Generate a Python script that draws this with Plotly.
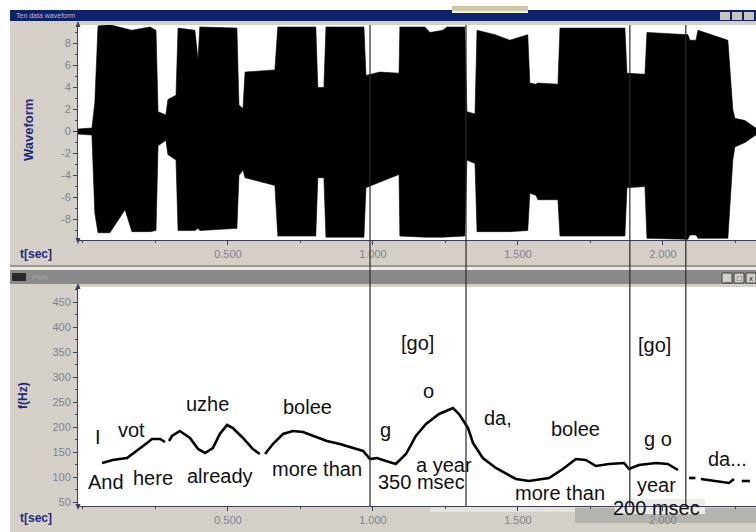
import plotly.graph_objects as go

# ---------------- data ----------------
# waveform amplitude envelope (time in s, upper / lower amplitude)
wave_t = [-0.017, 0.031, 0.041, 0.052, 0.093, 0.145, 0.169, 0.231, 0.252, 0.259, 0.286, 0.293,
          0.321, 0.328, 0.386, 0.397, 0.403, 0.531, 0.538, 0.552, 0.559, 0.662, 0.672, 0.803,
          0.810, 0.831, 0.838, 0.969, 0.976, 1.024, 1.090, 1.093, 1.179, 1.197, 1.241, 1.255,
          1.317, 1.324, 1.352, 1.359, 1.421, 1.472, 1.534, 1.541, 1.562, 1.569, 1.638, 1.645,
          1.869, 1.876, 1.938, 1.945, 2.086, 2.093, 2.114, 2.121, 2.224, 2.241, 2.248, 2.283, 2.321]
wave_upper = [0.23, 0.32, 2.6, 9.6, 9.7, 9.4, 9.2, 9.5, 9.2, 1.8, 1.5, 2.9,
              3.3, 9.4, 9.2, 6.5, 9.5, 9.4, 2.4, 2.1, 5.4, 5.6, 9.5, 9.5,
              4.0, 4.0, 9.5, 9.5, 5.1, 5.4, 5.3, 9.5, 9.5, 9.0, 9.2, 9.5,
              9.5, 1.8, 1.6, 9.2, 8.8, 8.3, 8.8, 4.4, 4.3, 4.4, 4.3, 9.4,
              9.4, 5.3, 5.2, 9.0, 8.8, 8.3, 8.3, 9.2, 8.3, 2.0, 1.2, 1.0, 0.3]
wave_lower = [-0.23, -0.32, -7.4, -9.2, -9.2, -7.1, -9.1, -9.1, -9.0, -1.3, -0.8, -2.1,
              -2.6, -9.0, -9.0, -8.8, -9.0, -8.8, -4.0, -3.5, -4.2, -4.9, -9.5, -9.5,
              -4.2, -4.2, -9.6, -9.6, -5.1, -4.6, -3.9, -9.5, -9.6, -9.6, -9.6, -9.6,
              -9.5, -2.6, -2.9, -9.1, -9.1, -9.1, -9.0, -5.6, -5.8, -6.2, -6.2, -9.5,
              -9.5, -5.1, -5.0, -9.7, -9.8, -9.4, -9.4, -9.7, -9.7, -2.6, -1.4, -1.0, -0.3]

# pitch contour (time in s, F0 in Hz); None = unvoiced gap
pitch_t = [0.066, 0.103, 0.152, 0.186, 0.221, 0.238, 0.266, 0.283, None,
           0.297, 0.307, 0.334, 0.369, 0.397, 0.421, 0.448, 0.472, 0.497, 0.517, 0.552, 0.586, 0.610, None,
           0.628, 0.655, 0.690, 0.724, 0.759, 0.793, 0.841, 0.886, 0.931, 0.966, 0.990, 1.014, 1.045,
           1.079, 1.114, 1.148, 1.183, 1.228, 1.276, 1.297, 1.328, 1.345, 1.379, 1.424, 1.493, 1.538,
           1.607, 1.655, 1.700, 1.734, 1.769, 1.814, 1.866, 1.883, 1.917, 1.976, 2.017, 2.052, None,
           2.090, 2.112, None,
           2.131, 2.183, 2.228, 2.245, None,
           2.272, 2.300]
pitch_hz = [128, 134, 138, 152, 168, 176, 176, 170, None,
            172, 182, 192, 178, 156, 148, 158, 186, 204, 198, 178, 156, 146, None,
            146, 166, 186, 192, 190, 182, 172, 166, 158, 152, 136, 138, 132,
            126, 146, 182, 206, 226, 238, 226, 198, 168, 138, 118, 96, 92,
            98, 116, 136, 134, 122, 126, 128, 116, 124, 128, 126, 114, None,
            98, 98, None,
            96, 92, 88, 96, None,
            92, 92]

# segment boundaries (s)
boundary_t = [0.990, 1.321, 1.886, 2.079]

# word labels on the pitch panel
word_text = ["I", "vot", "uzhe", "bolee", "And", "here", "already", "more than",
             "[go]", "o", "g", "a year", "350 msec", "da,", "bolee", "more than",
             "[go]", "g o", "year", "200 msec", "da..."]
word_t = [0.052, 0.169, 0.431, 0.776, 0.079, 0.241, 0.472, 0.807,
          1.152, 1.190, 1.045, 1.245, 1.169, 1.431, 1.700, 1.645,
          1.972, 1.983, 1.979, 1.979, 2.222]
word_hz = [180, 194, 246, 240, 90, 98, 102, 116,
           368, 272, 194, 125, 91, 218, 196, 68,
           364, 176, 84, 44, 136]
word_yshift = [0, 0, 0, 0, 0, 0, 0, 0,
               0, 0, 0, 0, 0, 0, 0, 0,
               0, 0, 0, -3, 0]

time_ticks = [0.5, 1.0, 1.5, 2.0]
time_tick_text = ["0.500", "1.000", "1.500", "2.000"]
wave_ticks = [-8, -6, -4, -2, 0, 2, 4, 6, 8]
hz_ticks = [50, 100, 150, 200, 250, 300, 350, 400, 450]

# ---------------- layout helpers ----------------
W, H = 756, 532
def px(x):
    return x / W
def py(y):
    return 1 - y / H

FONT = "Liberation Sans, Arial, sans-serif"
NAVY = "#1f2a7a"
TICKC = "#7f8090"
AXC = "#3c3c5c"

fig = go.Figure()

# waveform envelope
fig.add_trace(go.Scatter(
    x=wave_t + wave_t[::-1], y=wave_upper + wave_lower[::-1],
    fill="toself", fillcolor="#000000", mode="lines",
    line=dict(color="#000000", width=0.6), xaxis="x", yaxis="y",
    hoverinfo="skip", showlegend=False))

# pitch contour
fig.add_trace(go.Scatter(
    x=pitch_t, y=pitch_hz, mode="lines", connectgaps=False,
    line=dict(color="#000000", width=2.6), xaxis="x2", yaxis="y2",
    showlegend=False))

axis_common = dict(showgrid=False, zeroline=False, showline=True, linecolor=AXC, linewidth=1,
                   ticks="outside", ticklen=4, tickcolor=AXC, automargin=False,
                   tickfont=dict(family=FONT, size=11, color=TICKC))

x_range = [-0.017, 2.321]
minor_t = dict(tickvals=[0, 0.25, 0.75, 1.25, 1.75, 2.25], ticks="outside", ticklen=2, tickcolor=AXC)
fig.update_layout(
    width=W, height=H, margin=dict(l=0, r=0, t=0, b=0, autoexpand=False),
    paper_bgcolor="#ffffff", plot_bgcolor="#ffffff",
    showlegend=False,
    xaxis=dict(domain=[px(78), 1], range=x_range, anchor="y",
               tickmode="array", tickvals=time_ticks, ticktext=time_tick_text,
               minor=minor_t, **axis_common),
    yaxis=dict(domain=[py(240), py(25)], range=[-9.86, 9.68], anchor="x",
               tickmode="array", tickvals=wave_ticks, ticktext=[str(v) for v in wave_ticks],
               minor=dict(tickvals=[-9, -7, -5, -3, -1, 1, 3, 5, 7, 9], ticks="outside", ticklen=2, tickcolor=AXC),
               **axis_common),
    xaxis2=dict(domain=[px(78), 1], range=x_range, anchor="y2",
                tickmode="array", tickvals=time_ticks, ticktext=time_tick_text,
                minor=minor_t, **axis_common),
    yaxis2=dict(domain=[py(506), py(287)], range=[42, 480], anchor="x2",
                tickmode="array", tickvals=hz_ticks, ticktext=[str(v) for v in hz_ticks],
                minor=dict(tickvals=[75, 125, 175, 225, 275, 325, 375, 425, 475], ticks="outside", ticklen=2, tickcolor=AXC),
                **axis_common),
)

shapes = []
def rect(x0, y0, x1, y1, color, layer="below", line=None):
    d = dict(type="rect", xref="paper", yref="paper", x0=px(x0), x1=px(x1), y0=py(y1), y1=py(y0),
             fillcolor=color, layer=layer, line=dict(width=0))
    if line:
        d["line"] = line
    shapes.append(d)

# window body
rect(10, 10, 756, 532, "#d4d0c8")
# white plotting areas
rect(78, 25, 756, 240, "#ffffff")
rect(78, 287, 756, 506, "#ffffff")
# light smear on bottom time axis
rect(430, 506, 575, 512, "#e4e3de")
rect(575, 508, 756, 523, "#b4b3ae")
rect(615, 499, 705, 514, "#ececea")
# top window title bar
rect(10, 10, 756, 21, "#0d226c", layer="above")
rect(452, 6, 528, 11, "#cfc6a4", layer="above")
rect(452, 11, 528, 13, "#f4efdc", layer="above")
for bx in (720, 732, 744):
    rect(bx, 12, bx + 10, 20, "#c8c4bc", layer="above")
# separators between windows
rect(10, 265, 756, 267, "#9a9890", layer="above")
rect(10, 267, 756, 270, "#ecebe6", layer="above")
# bottom window title bar
rect(10, 270, 756, 284, "#8a8a8a", layer="above")
rect(12, 273, 26, 281, "#2a2a2a", layer="above")
for bx in (722, 734, 746):
    rect(bx, 273, bx + 10, 283, "#d4d0c8", layer="above", line=dict(color="#404040", width=1))

# axis arrow tips
for (yt, yb) in ((25, 240), (287, 506)):
    shapes.append(dict(type="path", xref="paper", yref="paper", layer="above",
                       path=f"M {px(78)},{py(yt-4)} L {px(75.5)},{py(yt+2)} L {px(80.5)},{py(yt+2)} Z",
                       fillcolor=AXC, line=dict(width=0)))
    shapes.append(dict(type="path", xref="paper", yref="paper", layer="above",
                       path=f"M {px(78)},{py(yb+4)} L {px(75.5)},{py(yb-2)} L {px(80.5)},{py(yb-2)} Z",
                       fillcolor=AXC, line=dict(width=0)))

# segment boundary lines through both panels
for bt in boundary_t:
    shapes.append(dict(type="line", xref="x", yref="paper", x0=bt, x1=bt,
                       y0=py(506), y1=py(25), layer="above",
                       line=dict(color="#2a2a2a", width=1.2)))

fig.update_layout(shapes=shapes)

ann = []
# word labels
for txt, t, hz, ys in zip(word_text, word_t, word_hz, word_yshift):
    ann.append(dict(x=t, y=hz, xref="x2", yref="y2", text=txt, showarrow=False,
                    xanchor="center", yanchor="middle", yshift=ys,
                    font=dict(family=FONT, size=20, color="#111111")))

def pann(x, y, text, size, color, angle=0, xanchor="center"):
    ann.append(dict(x=px(x), y=py(y), xref="paper", yref="paper", text=text,
                    textangle=angle, showarrow=False, xanchor=xanchor, yanchor="middle",
                    font=dict(family=FONT, size=size, color=color)))

# axis titles
pann(28, 130, "<b>Waveform</b>", 13, NAVY, angle=-90)
pann(23, 396, "<b>f(Hz)</b>", 12, NAVY, angle=-90)
pann(36, 254, "<b>t[sec]</b>", 12, NAVY)
pann(36, 518, "<b>t[sec]</b>", 12, NAVY)
# window captions
pann(14, 15.5, "Ten data waveform", 7, "#b8bcd8", xanchor="left")
pann(30, 277, "Pitch", 7, "#a8a8a8", xanchor="left")
for bx, sym in ((727, "_"), (739, "□"), (751, "x")):
    pann(bx, 278, sym, 8, "#202020")

fig.update_layout(annotations=ann)

fig.write_html("out.html", config={"displayModeBar": False},
               post_script="document.body.style.margin='0';document.body.style.overflow='hidden';")
